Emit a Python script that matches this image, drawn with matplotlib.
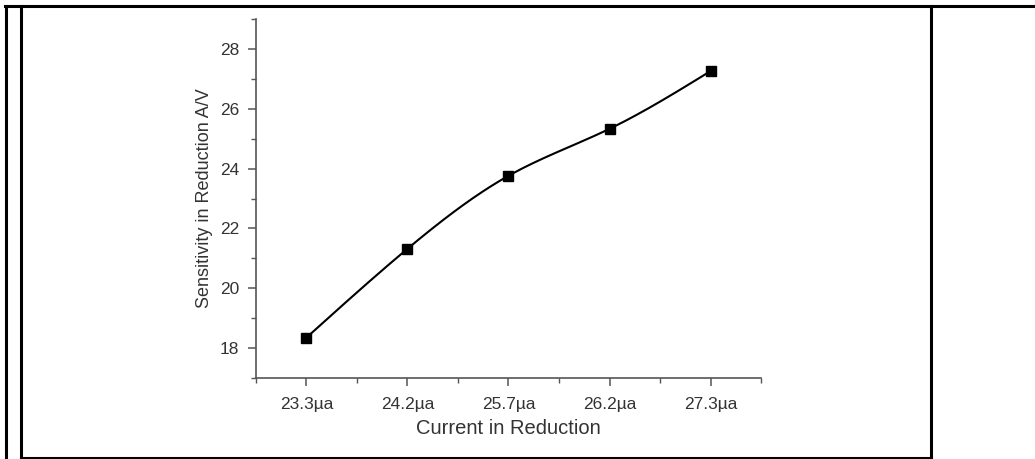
import numpy as np
import matplotlib
matplotlib.use("Agg")
import matplotlib.pyplot as plt
from matplotlib.lines import Line2D
from matplotlib.ticker import MultipleLocator

# data
current_labels = ["23.3\u00b5a", "24.2\u00b5a", "25.7\u00b5a", "26.2\u00b5a", "27.3\u00b5a"]
sensitivity = [18.35, 21.32, 23.76, 25.33, 27.26]


def natural_spline(x, y, n=300):
    # smooth connecting line like Origin's spline line style
    x = np.asarray(x, float)
    y = np.asarray(y, float)
    h = np.diff(x)
    k = len(x)
    A = np.zeros((k, k))
    b = np.zeros(k)
    A[0, 0] = A[-1, -1] = 1
    for i in range(1, k - 1):
        A[i, i - 1] = h[i - 1]
        A[i, i] = 2 * (h[i - 1] + h[i])
        A[i, i + 1] = h[i]
        b[i] = 6 * ((y[i + 1] - y[i]) / h[i] - (y[i] - y[i - 1]) / h[i - 1])
    m = np.linalg.solve(A, b)
    xs = np.linspace(x[0], x[-1], n)
    idx = np.clip(np.searchsorted(x, xs) - 1, 0, k - 2)
    t0 = xs - x[idx]
    t1 = x[idx + 1] - xs
    hi = h[idx]
    ys = (m[idx] * t1**3 / (6 * hi) + m[idx + 1] * t0**3 / (6 * hi)
          + (y[idx] / hi - m[idx] * hi / 6) * t1
          + (y[idx + 1] / hi - m[idx + 1] * hi / 6) * t0)
    return xs, ys


plt.rcParams['font.family'] = ['Liberation Sans', 'DejaVu Sans']
text_col = '#333333'
axis_col = '#555555'

fig = plt.figure(figsize=(10.35, 4.59), dpi=100)
ax = fig.add_axes([0.2473, 0.1765, 0.488, 0.782])

xpos = np.arange(len(current_labels))
xs, ys = natural_spline(xpos, sensitivity)
ax.plot(xs, ys, color='black', lw=1.5)
ax.plot(xpos, sensitivity, ls='none', marker='s', ms=7, color='black')

ax.set_xlim(-0.5, 4.5)
ax.set_ylim(17, 29)
ax.set_xticks(xpos)
ax.set_xticklabels(current_labels)
ax.xaxis.set_minor_locator(MultipleLocator(0.5))
ax.yaxis.set_minor_locator(MultipleLocator(1))
ax.set_yticks(range(18, 29, 2))

for s in ['top', 'right']:
    ax.spines[s].set_visible(False)
for s in ['left', 'bottom']:
    ax.spines[s].set_color(axis_col)
    ax.spines[s].set_linewidth(1.2)

ax.tick_params(which='major', direction='out', length=6, width=1.1,
               color=axis_col, labelcolor=text_col, labelsize=12.5, pad=6)
ax.tick_params(axis='x', which='major', pad=8)
ax.tick_params(which='minor', direction='out', length=3.5, width=1.0,
               color=axis_col)

ax.set_xlabel('Current in Reduction', fontsize=14.5, color=text_col, labelpad=5)
ax.set_ylabel('Sensitivity in Reduction A/V', fontsize=13, color=text_col, labelpad=5)

# table cell border lines around the chart
W, H = 1035, 459
def fx(px):
    return px / W
def fy(py):
    return 1 - py / H
border = dict(color='black', lw=2.2, transform=fig.transFigure)
fig.add_artist(Line2D([fx(5), fx(1035)], [fy(6), fy(6)], **border))
fig.add_artist(Line2D([fx(6), fx(6)], [fy(6), fy(459)], **border))
fig.add_artist(Line2D([fx(21), fx(21)], [fy(6), fy(458)], **border))
fig.add_artist(Line2D([fx(21), fx(931)], [fy(458), fy(458)], **border))
fig.add_artist(Line2D([fx(931), fx(931)], [fy(6), fy(458)], **border))

fig.savefig('out.png', dpi=100)
